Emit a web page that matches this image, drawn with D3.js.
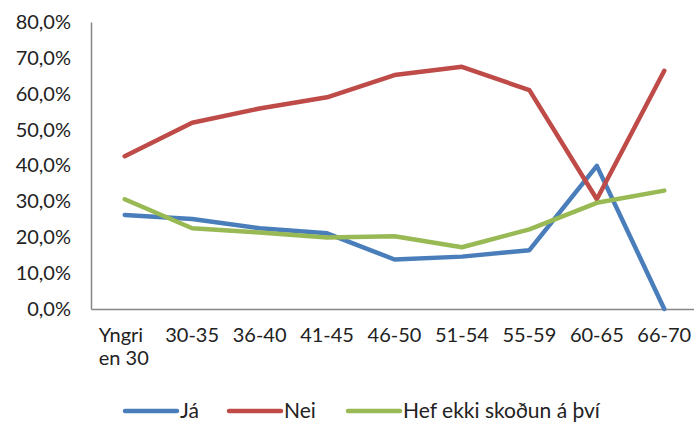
<!DOCTYPE html>
<html><head><meta charset="utf-8">
<script src="https://cdn.jsdelivr.net/npm/d3@7"></script>
<style>body{margin:0;background:#fff}svg{display:block}</style>
</head><body><svg id="c" width="694" height="423"></svg>
<script>
const categories = ["Yngri en 30","30-35","36-40","41-45","46-50","51-54","55-59","60-65","66-70"];
const ja =   [26.2, 25.1, 22.5, 21.1, 13.8, 14.6, 16.4, 39.9, 0.0];
const nei =  [42.6, 51.9, 55.9, 59.0, 65.2, 67.5, 61.0, 30.6, 66.4];
const hef =  [30.6, 22.5, 21.3, 19.9, 20.3, 17.2, 22.2, 29.6, 33.0];
const seriesNames = ["Já","Nei","Hef ekki skoðun á því"];
const yTicks = [0,10,20,30,40,50,60,70,80];

const colors = ["#4a7ebb","#be4b48","#98b954"];
const font = "Lato, 'Open Sans', sans-serif";
const svg = d3.select("#c");
const L = 91, R = 698, T = 22, B = 309;
const x = d3.scaleBand().domain(categories).range([L, R]);
const y = d3.scaleLinear().domain([0, 80]).range([B, T]);

// y axis
const ya = svg.append("g").attr("transform", `translate(${L},0)`)
  .call(d3.axisLeft(y).tickValues(yTicks).tickSize(0).tickPadding(20)
    .tickFormat(d => d3.format(".1f")(d).replace(".", ",") + "%"));
ya.select(".domain").attr("stroke", "#868686").attr("stroke-width", 1.5);
ya.selectAll("text").attr("font-family", font).attr("font-size", 20).attr("fill", "#222");

// x axis
const xa = svg.append("g").attr("transform", `translate(0,${B})`)
  .call(d3.axisBottom(x).tickSize(0).tickPadding(0).tickFormat(""));
xa.select(".domain").attr("stroke", "#868686").attr("stroke-width", 1.5);
xa.selectAll(".tick").each(function(d){
  const words = d === "Yngri en 30" ? ["Yngri","en 30"] : [d];
  const t = d3.select(this).append("text").attr("fill", "#222")
    .attr("font-family", font).attr("font-size", 20).attr("text-anchor", "middle");
  words.forEach((w,i) => t.append("tspan").attr("x", 0).attr("y", 33 + i*23).text(w));
  if (words.length > 1) t.attr("text-anchor","start").selectAll("tspan").attr("x", -26);
});

const data = [ja, nei, hef];
const line = d3.line().x((d,i) => x(categories[i]) + x.bandwidth()/2).y(d => y(d));
data.forEach((s, k) => {
  svg.append("path").datum(s).attr("d", line).attr("fill", "none")
    .attr("stroke", colors[k]).attr("stroke-width", 4.5)
    .attr("stroke-linejoin", "round").attr("stroke-linecap", "round");
});

// legend
const legX = [125, 229, 348];
seriesNames.forEach((n, k) => {
  const g = svg.append("g").attr("transform", `translate(${legX[k]},411)`);
  g.append("line").attr("x1", 0).attr("x2", 52).attr("stroke", colors[k])
    .attr("stroke-width", 4.5).attr("stroke-linecap", "round");
  g.append("text").attr("x", 55).attr("y", 7).attr("font-family", font)
    .attr("font-size", 21).attr("fill", "#222").text(n);
});
</script></body></html>
